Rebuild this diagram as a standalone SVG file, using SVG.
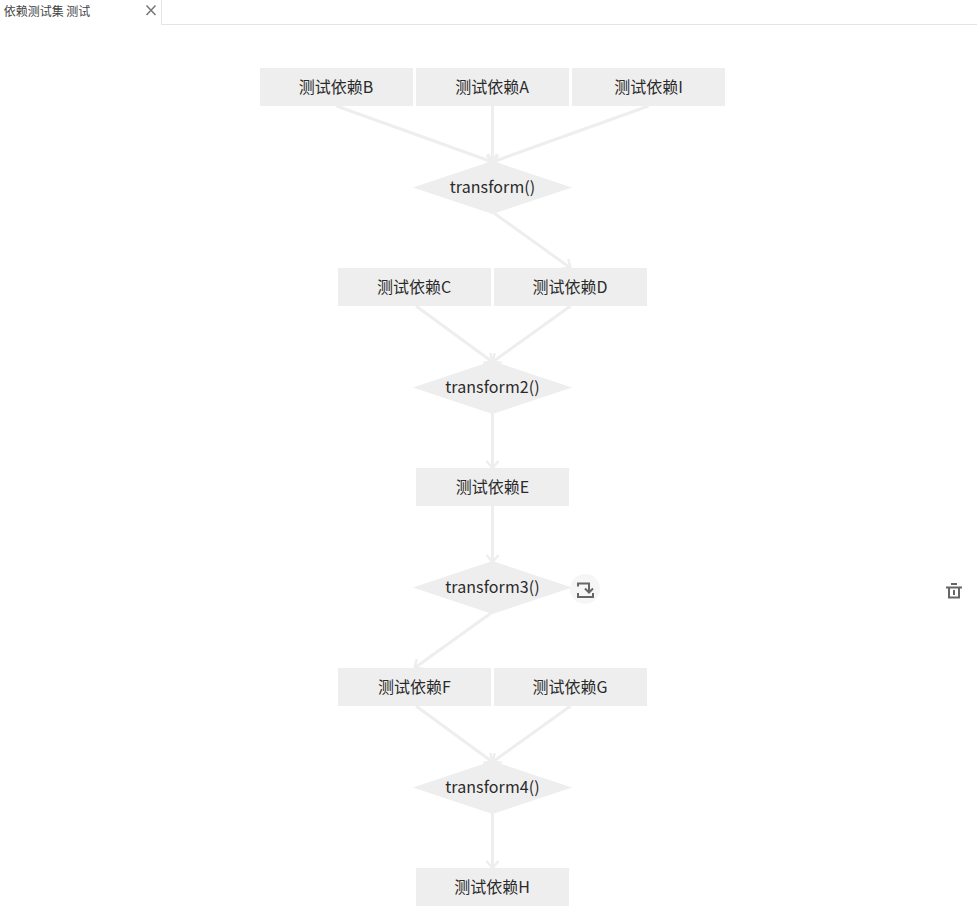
<svg xmlns="http://www.w3.org/2000/svg" width="977" height="908" viewBox="0 0 977 908">
<style>
text{font-family:"Microsoft YaHei","Noto Sans CJK SC","Liberation Sans",sans-serif;font-size:16px;fill:#2a2a2a;text-anchor:middle;dominant-baseline:central}
.t{letter-spacing:.1px}
.n{fill:#eee}
.c{fill:none;stroke:#eee;stroke-width:3}
.a{fill:none;stroke:#eee;stroke-width:2.5}
.i{fill:none;stroke:#666;stroke-width:2}
</style>
<defs><marker id="arrow" markerUnits="userSpaceOnUse" markerWidth="14" markerHeight="14" refX="11" refY="7" orient="auto"><path d="M4 1 L11 7 L4 13" class="a"/></marker></defs>
<rect width="977" height="908" fill="#fff"/>
<g id="tabbar">
<path d="M161.500 0V24.500H977" fill="none" stroke="#e4e4e4"/>
<text x="47" y="10" style="font-size:12px;fill:#444">依赖测试集 测试</text>
<path d="M146.500 5.500L155.500 15M155.500 5.500L146.500 15" fill="none" stroke="#777" stroke-width="1.500"/>
</g>
<g id="connectors">
<path class="c" marker-end="url(#arrow)" d="M336.500 106L492.500 162"/>
<path class="c" marker-end="url(#arrow)" d="M492.500 106V162"/>
<path class="c" marker-end="url(#arrow)" d="M648.500 106L492.500 162"/>
<path class="c" marker-end="url(#arrow)" d="M492.500 212L570.500 268"/>
<path class="c" marker-end="url(#arrow)" d="M416 306L492.500 362"/>
<path class="c" marker-end="url(#arrow)" d="M570.500 306L492.500 362"/>
<path class="c" marker-end="url(#arrow)" d="M492.500 412V468"/>
<path class="c" marker-end="url(#arrow)" d="M492.500 506V562"/>
<path class="c" marker-end="url(#arrow)" d="M492.500 612L414.500 668"/>
<path class="c" marker-end="url(#arrow)" d="M416 706L492.500 762"/>
<path class="c" marker-end="url(#arrow)" d="M570.500 706L492.500 762"/>
<path class="c" marker-end="url(#arrow)" d="M492.500 812V868"/>
</g>
<g id="nodeB"><rect class="n" x="260" y="68" width="153" height="38"/><text x="336" y="85.500">测试依赖B</text></g>
<g id="nodeA"><rect class="n" x="416" y="68" width="153" height="38"/><text x="492" y="85.500">测试依赖A</text></g>
<g id="nodeI"><rect class="n" x="572" y="68" width="153" height="38"/><text x="648.500" y="85.500">测试依赖I</text></g>
<g id="transform1"><polygon class="n" points="492.500,161 572,187.500 492.500,214 413,187.500"/><text class="t" x="492.500" y="185.500">transform()</text></g>
<g id="nodeC"><rect class="n" x="338" y="268" width="153" height="38"/><text x="414" y="285.500">测试依赖C</text></g>
<g id="nodeD"><rect class="n" x="494" y="268" width="153" height="38"/><text x="570" y="285.500">测试依赖D</text></g>
<g id="transform2"><polygon class="n" points="492.500,361 572,387.500 492.500,414 413,387.500"/><text class="t" x="492.500" y="385.500">transform2()</text></g>
<g id="nodeE"><rect class="n" x="416" y="468" width="153" height="38"/><text x="492.500" y="485.500">测试依赖E</text></g>
<g id="transform3"><polygon class="n" points="492.500,561 572,587.500 492.500,614 413,587.500"/><text class="t" x="492.500" y="585.500">transform3()</text></g>
<g id="nodeF"><rect class="n" x="338" y="668" width="153" height="38"/><text x="414.500" y="685.500">测试依赖F</text></g>
<g id="nodeG"><rect class="n" x="494" y="668" width="153" height="38"/><text x="570" y="685.500">测试依赖G</text></g>
<g id="transform4"><polygon class="n" points="492.500,761 572,787.500 492.500,814 413,787.500"/><text class="t" x="492.500" y="785.500">transform4()</text></g>
<g id="nodeH"><rect class="n" x="416" y="868" width="153" height="38"/><text x="492" y="885.500">测试依赖H</text></g>
<g id="icon-save"><circle cx="585" cy="589" r="15" fill="#f6f6f6"/><path class="i" d="M578 586.500V583.500H589V592M585 588.500L589 592.500L593 588.500M578 593V597H593V593"/></g>
<g id="icon-delete"><path class="i" d="M946 587.500H962M951 584H957M949 587.500V597.500H959V587.500M954 590V595"/></g>
</svg>
